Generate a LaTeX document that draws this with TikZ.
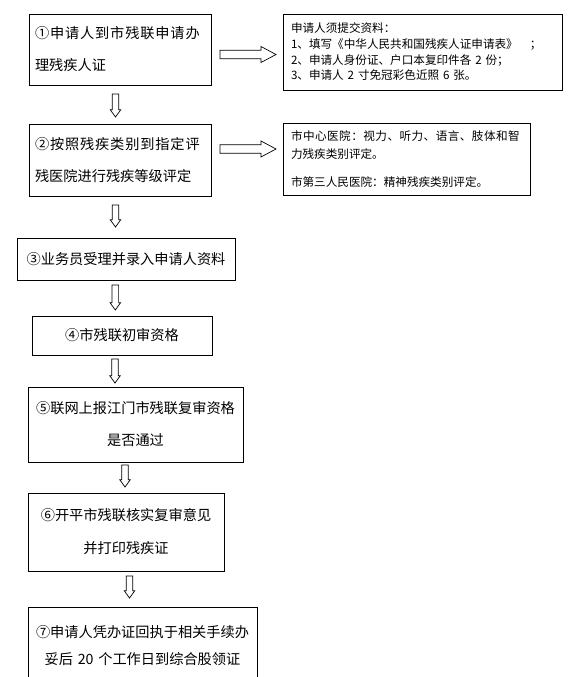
\documentclass[tikz,border=0pt]{standalone}
\usepackage{fontspec}
\setmainfont{Noto Sans CJK SC}
\newcommand\DArrow[3]{%
  \draw[barrow] ({#1-3.3},#2) -- ({#1+3.3},#2) -- ({#1+3.3},{#3-7.3}) -- ({#1+5.3},{#3-7.3})
    -- (#1,#3) -- ({#1-5.3},{#3-7.3}) -- ({#1-3.3},{#3-7.3}) -- cycle;}
\newcommand\RArrow[3]{%
  \draw[barrow] (#1,{#3-4.3}) -- (261,{#3-4.3}) -- (261,{#3-8}) -- (#2,#3)
    -- (261,{#3+8}) -- (261,{#3+4.3}) -- (#1,{#3+4.3}) -- cycle;}
\begin{document}
\begin{tikzpicture}[x=1pt,y=-1pt,
  box/.style={draw=black, line width=0.8pt, fill=white, inner sep=0pt,
    font=\fontsize{14.2}{32}\selectfont},
  rbox/.style={box, font=\fontsize{11.6}{15.7}\selectfont, align=left, inner xsep=8pt},
  barrow/.style={draw=black, line width=0.7pt, fill=white, line join=miter}]
\useasboundingbox (0,0) rectangle (580,677);
\clip (0,0) rectangle (580,677);

\node[box, text width=170pt, inner xsep=6pt, minimum height=71pt, align=left] (b1) at (120,49.5)
  {{\addfontfeature{LetterSpace=6}①申请人到市残联申请办}\\理残疾人证};
\node[box, text width=170pt, inner xsep=6pt, minimum height=72pt, align=left] (b2) at (120,160)
  {{\addfontfeature{LetterSpace=6}②按照残疾类别到指定评}\\残医院进行残疾等级评定};
\node[box, text width=218pt, minimum height=42pt, align=center] (b3) at (126,259)
  {③业务员受理并录入申请人资料};
\node[box, text width=180pt, minimum height=39pt, align=center] (b4) at (122,335.5)
  {④市残联初审资格};
\node[box, text width=215pt, minimum height=75pt, align=center] (b5) at (135.5,424.5)
  {⑤联网上报江门市残联复审资格\\是否通过};
\node[box, text width=196pt, minimum height=78pt, align=center, font=\fontsize{14.2}{33}\selectfont] (b6) at (126,532)
  {⑥开平市残联核实复审意见\\并打印残疾证};
\node[box, text width=229pt, minimum height=77pt, align=center, font=\fontsize{14.2}{27}\selectfont] (b7) at (142.5,645.5)
  {⑦申请人凭办证回执于相关手续办\\妥后 20 个工作日到综合股领证};

\node[rbox, text width=263pt, minimum height=76pt] (r1) at (422.5,52)
  {申请人须提交资料：\\1、填写《中华人民共和国残疾人证申请表》\hspace{12pt}；\\2、申请人身份证、户口本复印件各 2 份；\\3、申请人 2 寸免冠彩色近照 6 张。};
\node[rbox, text width=231pt, minimum height=72pt, font=\fontsize{11.6}{18}\selectfont] (r2) at (406.5,159)
  {{\addfontfeature{LetterSpace=4}市中心医院：视力、听力、语言、肢体和智}\\力残疾类别评定。\\[10.5pt]市第三人民医院：精神残疾类别评定。};

\RArrow{220}{276}{54.5}
\RArrow{220}{276}{149}
\DArrow{115.5}{94}{117}
\DArrow{115.5}{205}{227}
\DArrow{115.3}{285}{310}
\DArrow{115}{359}{383}
\DArrow{125}{465}{487}
\DArrow{129.5}{576}{598}
\end{tikzpicture}
\end{document}
